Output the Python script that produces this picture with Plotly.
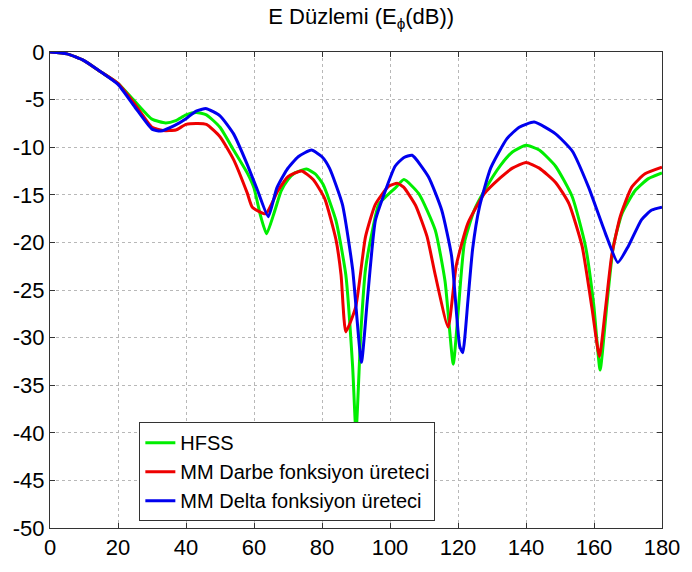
import plotly.graph_objects as go

hfss_x = [0, 5, 10, 15, 20, 25, 30, 34, 37, 40, 43, 46, 50, 54, 58, 60, 62, 63.7, 66, 68, 70, 72, 75.4, 78, 80.3, 84.1, 87, 89, 90, 91.4, 92.8, 94.7, 96.7, 101.5, 104.1, 108.5, 113.3, 116.2, 118.6, 120, 121.9, 124.8, 127.7, 132.5, 136, 140, 143.9, 148.7, 153.6, 157.5, 159.9, 161.8, 163.8, 165.7, 168.2, 172, 176, 180]
hfss_y = [0, -0.2, -0.9, -2.1, -3.3, -5.2, -7.05, -7.45, -7.2, -6.6, -6.35, -6.6, -7.9, -10.3, -12.7, -14.3, -17.3, -19.1, -16.8, -14.6, -13.4, -12.7, -12.3, -12.8, -13.9, -17.7, -23.4, -33, -40, -29.6, -22.8, -19, -16, -14.3, -13.4, -14.9, -18.7, -24.1, -32.8, -27.5, -20, -16.6, -14.6, -11.9, -10.5, -9.8, -10.3, -12, -15.2, -20.4, -26.5, -33.4, -26.5, -20.4, -17, -14.6, -13.3, -12.7]

darbe_x = [0, 5, 10, 15, 20, 25, 30, 33.2, 37, 40, 43.5, 46, 50, 54, 58, 59.5, 63.4, 67, 70, 74, 77.4, 80.8, 84.1, 85.6, 87, 89.9, 92.8, 95.7, 99.6, 102.2, 104, 107.5, 110.9, 113.3, 117.1, 119.5, 122.9, 127.7, 132.5, 136, 140, 143.9, 148.7, 152.6, 156.5, 159.4, 161.6, 163.3, 165.2, 167.7, 171.1, 175, 180]
darbe_y = [0, -0.2, -0.9, -2.1, -3.3, -5.5, -7.9, -8.25, -8.2, -7.6, -7.5, -7.6, -8.9, -11.3, -14.8, -16.3, -17.0, -14.6, -13.1, -12.5, -13.4, -15.4, -19.7, -23.4, -29.4, -26.8, -19.4, -16, -14.1, -13.8, -14.2, -16.1, -19.4, -23.4, -28.9, -22.4, -18, -14.9, -13.2, -12.2, -11.6, -12.2, -13.7, -15.9, -20.4, -26.9, -32, -27.2, -21.4, -17.3, -14.2, -12.8, -12.1]

delta_x = [0, 5, 10, 15, 20, 25, 30, 32.5, 36.7, 40, 43, 46, 50, 54, 58, 61, 64.2, 66.7, 69.6, 73, 76.9, 80, 82.2, 86, 89, 91.6, 93.3, 95.7, 98.6, 101.5, 104, 106.5, 111.3, 115.2, 118.1, 120.5, 121.4, 122.9, 124.3, 126.3, 129.6, 134.4, 138, 142.4, 148.7, 153.6, 158.4, 163.3, 167, 170.1, 174, 177, 180]
delta_y = [0, -0.2, -0.9, -2.1, -3.4, -5.8, -8.1, -8.3, -7.7, -7.0, -6.2, -5.95, -6.7, -8.6, -11.8, -14.5, -17.3, -14.3, -12.4, -11, -10.3, -11, -12.2, -16, -22.8, -32.6, -26.2, -17.7, -14.6, -12, -11.1, -10.85, -13.1, -16.6, -21.4, -30.9, -31.6, -26.2, -20.7, -16.3, -12.2, -9.1, -7.9, -7.36, -8.6, -10.4, -14.2, -19, -22.1, -20.4, -17.6, -16.6, -16.3]

names = ["HFSS", "MM Darbe fonksiyon üreteci", "MM Delta fonksiyon üreteci"]
colors = ["#00ee00", "#ee0000", "#0000ee"]

x_ticks = [0, 20, 40, 60, 80, 100, 120, 140, 160, 180]
y_ticks = [0, -5, -10, -15, -20, -25, -30, -35, -40, -45, -50]
y_tick_text = ["0", "-5", "-10", "-15", "-20", "-25", "-30", "-35", "-40", "-45", "-50"]

fig = go.Figure()
for xs, ys, nm, c in [(hfss_x, hfss_y, names[0], colors[0]),
                      (darbe_x, darbe_y, names[1], colors[1]),
                      (delta_x, delta_y, names[2], colors[2])]:
    fig.add_trace(go.Scatter(x=xs, y=ys, name=nm, mode="lines",
                             line=dict(color=c, width=3, shape="spline", smoothing=0.5)))

font = "Liberation Sans, Arial, sans-serif"
axis_common = dict(showline=True, linecolor="#333333", linewidth=1, mirror="ticks",
                   ticks="inside", ticklen=5, tickcolor="#333333",
                   showgrid=True, gridcolor="#b8b8b8", griddash="dot", gridwidth=1,
                   zeroline=False, tickfont=dict(family=font, size=22, color="black"))

fig.update_layout(
    width=692, height=572,
    margin=dict(l=50, r=20, t=52, b=35),
    paper_bgcolor="white", plot_bgcolor="white",
    title=dict(text="E Düzlemi (E<sub>ϕ</sub>(dB))", x=0.522, xanchor="center",
               y=0.985, yanchor="top", font=dict(family=font, size=22, color="black")),
    xaxis=dict(range=[0, 180], tickvals=x_ticks, **axis_common),
    yaxis=dict(range=[-50, 0], tickvals=y_ticks, ticktext=y_tick_text, **axis_common),
    legend=dict(x=0.146, y=0.0144, xanchor="left", yanchor="bottom",
                bgcolor="white", bordercolor="#333333", borderwidth=1,
                font=dict(family=font, size=20, color="black"),
                tracegroupgap=0),
    showlegend=True,
)

fig.write_html("out.html")
